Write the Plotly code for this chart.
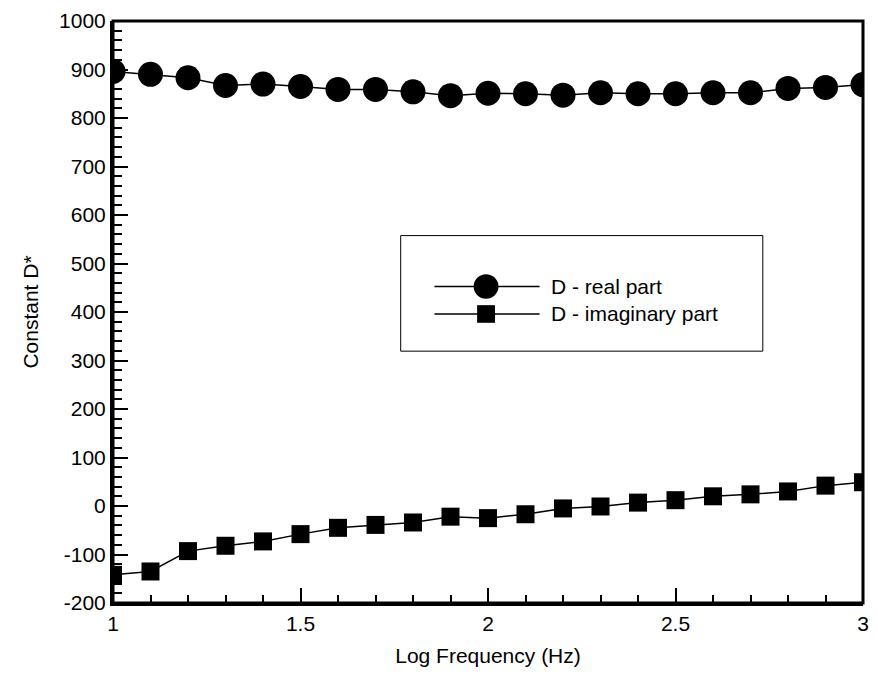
import plotly.graph_objects as go

log_freq = [1.0, 1.1, 1.2, 1.3, 1.4, 1.5, 1.6, 1.7, 1.8, 1.9, 2.0,
            2.1, 2.2, 2.3, 2.4, 2.5, 2.6, 2.7, 2.8, 2.9, 3.0]
d_real = [896, 890, 883, 867, 870, 865, 859, 859, 854, 846, 851,
          850, 847, 852, 850, 850, 852, 852, 861, 863, 869]
d_imag = [-142, -135, -93, -82, -73, -58, -45, -39, -34, -22, -25,
          -17, -5, -1, 7, 12, 20, 24, 30, 42, 49]
legend_labels = ["D - real part", "D - imaginary part"]
x_ticks = [1, 1.5, 2, 2.5, 3]
x_tick_text = ["1", "1.5", "2", "2.5", "3"]
y_ticks = [-200, -100, 0, 100, 200, 300, 400, 500, 600, 700, 800, 900, 1000]
y_tick_text = ["-200", "-100", "0", "100", "200", "300", "400", "500",
               "600", "700", "800", "900", "1000"]

W, H = 756.0, 594.0
FONT = "Liberation Sans, Arial, Helvetica, sans-serif"

fig = go.Figure()
fig.add_trace(go.Scatter(
    x=log_freq, y=d_real, mode="lines+markers", name=legend_labels[0],
    line=dict(color="black", width=1.5),
    marker=dict(symbol="circle", size=25, color="black"),
    showlegend=False))
fig.add_trace(go.Scatter(
    x=log_freq, y=d_imag, mode="lines+markers", name=legend_labels[1],
    line=dict(color="black", width=1.5),
    marker=dict(symbol="square", size=18, color="black"),
    showlegend=False))

shapes = [
    dict(type="rect", xref="paper", yref="paper", x0=0, x1=1, y0=0, y1=1,
         line=dict(color="black", width=3), fillcolor="rgba(0,0,0,0)", layer="above"),
]
bx0, bx1, by0, by1 = 0.3836, 0.8664, 0.4327, 0.6313
lx0, lx1, mx = 0.4286, 0.5688, 0.4974
rows = [0.5438, 0.4966]
shapes.append(dict(type="rect", xref="paper", yref="paper", x0=bx0, x1=bx1, y0=by0, y1=by1,
                   line=dict(color="black", width=1), fillcolor="rgba(0,0,0,0)", layer="above"))
for ry in rows:
    shapes.append(dict(type="line", xref="paper", yref="paper", x0=lx0, x1=lx1, y0=ry, y1=ry,
                       line=dict(color="black", width=1.5)))
r = 12.5
shapes.append(dict(type="circle", xref="paper", yref="paper",
                   x0=mx - r / W, x1=mx + r / W, y0=rows[0] - r / H, y1=rows[0] + r / H,
                   fillcolor="black", line=dict(color="black", width=0)))
s = 9
shapes.append(dict(type="rect", xref="paper", yref="paper",
                   x0=mx - s / W, x1=mx + s / W, y0=rows[1] - s / H, y1=rows[1] + s / H,
                   fillcolor="black", line=dict(color="black", width=0)))
annotations = []
for ry, lab in zip(rows, legend_labels):
    annotations.append(dict(xref="paper", yref="paper", x=0.5807, y=ry, text=lab,
                            showarrow=False, xanchor="left", yanchor="middle",
                            font=dict(family=FONT, size=21, color="black")))

fig.update_layout(
    width=878, height=674,
    margin=dict(l=113, r=9, t=16, b=64),
    plot_bgcolor="white",
    xaxis=dict(range=[1, 3], tickvals=x_ticks, ticktext=x_tick_text,
               ticks="inside", ticklen=15, tickwidth=2, tickcolor="black",
               showline=True, linecolor="black", linewidth=3,
               minor=dict(ticks="inside", ticklen=8, dtick=0.1, tickcolor="black"),
               tickfont=dict(family=FONT, size=21, color="black"),
               title=dict(text="Log Frequency (Hz)", font=dict(family=FONT, size=21, color="black"))),
    yaxis=dict(range=[-200, 1000], tickvals=y_ticks, ticktext=y_tick_text, ticksuffix=" ",
               ticks="inside", ticklen=15, tickwidth=2, tickcolor="black",
               showline=True, linecolor="black", linewidth=3,
               minor=dict(ticks="inside", ticklen=9, dtick=20, tickcolor="black"),
               tickfont=dict(family=FONT, size=21, color="black"),
               title=dict(text="Constant D*", font=dict(family=FONT, size=21, color="black"))),
    shapes=shapes,
    annotations=annotations,
    showlegend=False,
)

fig.write_html("out.html")
